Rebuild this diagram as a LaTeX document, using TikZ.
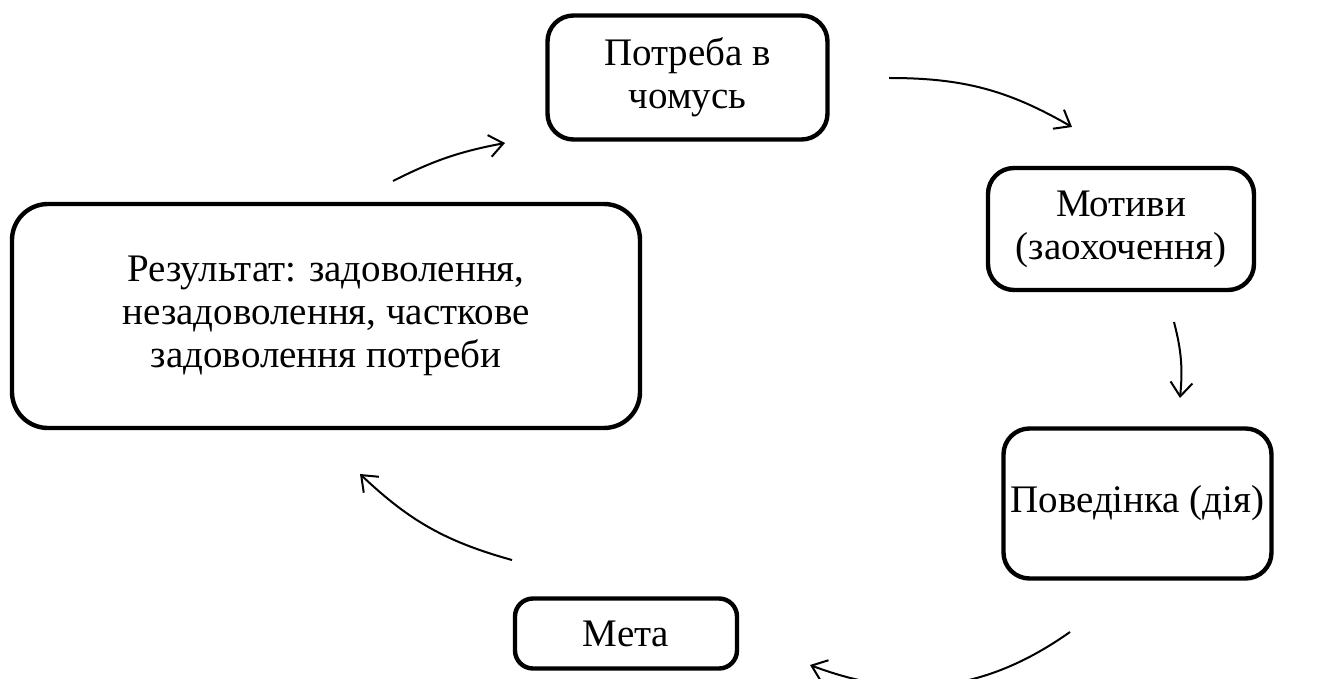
\documentclass[tikz,border=0pt]{standalone}
\usepackage{fontspec}
\setmainfont{Liberation Serif}
\usetikzlibrary{arrows.meta}

\begin{document}
\begin{tikzpicture}[x=0.5pt,y=-0.5pt,
    -{Straight Barb[length=7pt,width=11pt]},line width=1pt,
    stage/.style={draw,line width=2.2pt,rounded corners=13pt,align=center,
                  font=\fontsize{19.5}{21.5}\selectfont,inner sep=0pt}]

  \useasboundingbox (0,0) rectangle (1319,679);

  % stages of the cycle
  \node[stage,minimum width=140pt,minimum height=62pt] (need) at (687.5,77.5) {Потреба в\\чомусь};
  \node[stage,minimum width=133pt,minimum height=61pt] (motive) at (1121,229) {Мотиви\\(заохочення)};
  \node[stage,minimum width=134pt,minimum height=75pt] (action) at (1137.5,503.5) {Поведінка (дія)};
  \node[stage,minimum width=111pt,minimum height=35pt,rounded corners=9pt] (goal) at (626,633.5) {Мета};
  \node[stage,minimum width=314pt,minimum height=112pt,rounded corners=18pt] (result) at (326,316)
    {Результат: задоволення,\\незадоволення, часткове\\задоволення потреби};

  % free ends of the arrows
  \coordinate (r1) at (393,181);  \coordinate (n1) at (505,143);
  \coordinate (n2) at (889,78);   \coordinate (m1) at (1072,127);
  \coordinate (m2) at (1174,322); \coordinate (a1) at (1180,398);
  \coordinate (a2) at (1070,632); \coordinate (g1) at (810,665);
  \coordinate (g2) at (512,560);  \coordinate (r2) at (360,474);

  \draw (r1) to[bend left=8] (n1);
  \draw (n2) to[bend left=15] (m1);
  \draw (m2) to[bend left=10] (a1);
  \draw (a2) to[bend left=28] (g1);
  \draw (g2) to[bend left=14] (r2);

\end{tikzpicture}
\end{document}
